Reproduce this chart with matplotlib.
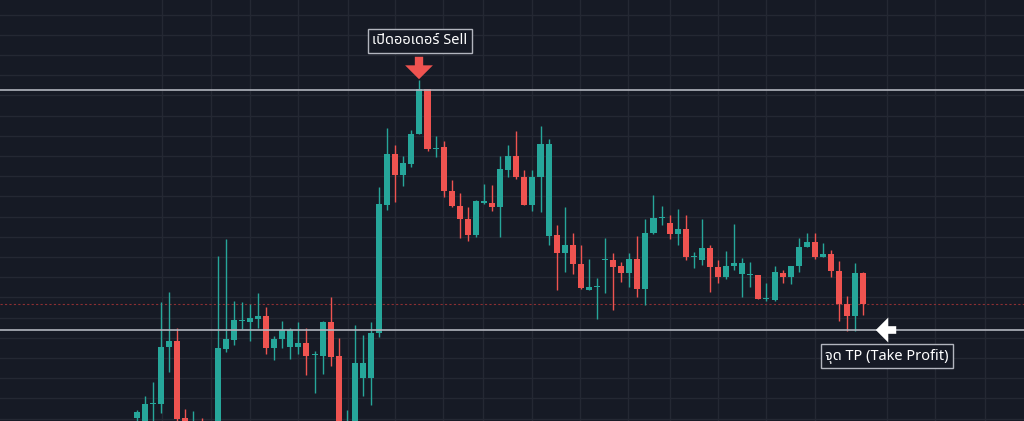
import matplotlib
matplotlib.use("Agg")
import matplotlib.pyplot as plt
from matplotlib import font_manager

opens_y = [418,430,404,404,347,341,418,445,425,430,440,349,340,321,322,319,316,348,339,347,347,343,355,356,322,356,440,435,378,378,333,205,154,175,164,134,89,149,147,191,206,219,235,203,203,207,170,156,177,205,177,236,235,253,245,264,290,287,260,260,266,273,259,289,233,218,223,234,229,257,260,248,267,277,266,274,275,275,299,300,273,277,266,247,242,257,254,271,304,316,273]
closes_y = [412,404,404,347,341,419,440,430,440,440,348,339,320,320,318,316,348,339,330,330,343,356,355,322,357,440,425,363,363,333,204,154,175,163,134,89,149,148,191,206,219,235,201,201,207,169,156,177,205,177,144,144,253,245,264,288,287,287,260,267,273,259,289,233,218,218,234,229,257,257,248,267,277,266,263,263,274,299,299,272,277,266,247,242,257,254,271,304,316,273,304]
highs_y = [410,396,382,302,292,328,409,411,418,425,256,239,301,302,304,293,307,336,321,328,322,328,351,321,297,338,410,325,335,322,187,128,145,156,130,80,89,136,141,180,193,207,200,184,185,156,145,131,170,170,126,139,225,207,233,245,259,278,238,253,262,253,236,219,195,206,215,209,215,252,219,245,260,251,224,258,262,275,283,266,270,266,238,233,233,243,250,261,296,263,272]
lows_y = [421,421,421,413,372,421,450,455,445,448,449,352,345,329,341,328,354,360,348,359,354,375,393,374,366,445,448,440,396,405,337,210,202,186,167,134,151,157,197,207,238,241,237,204,211,237,177,179,205,211,212,245,290,272,274,289,290,319,293,310,282,287,297,305,234,225,239,245,260,268,265,292,283,279,270,297,287,299,301,301,283,284,272,247,259,257,277,321,331,331,315]

opens = [421 - v for v in opens_y]
closes = [421 - v for v in closes_y]
highs = [421 - v for v in highs_y]
lows = [421 - v for v in lows_y]

sell_level = 421 - 90
tp_level = 421 - 330
red_level = 421 - 304
sell_label = "เปิดออเดอร์ Sell"
tp_label = "จุด TP (Take Profit)"

names = {f.name for f in font_manager.fontManager.ttflist}
fam = [n for n in ["Noto Sans Thai", "Noto Sans Thai UI", "Loma", "Garuda", "Tlwg Typo", "Noto Sans", "DejaVu Sans"] if n in names]
plt.rcParams['font.family'] = fam

BG = "#161a25"; GRID = "#242833"; UP = "#26a69a"; DN = "#ef5350"
W, H = 1024, 421
fig = plt.figure(figsize=(W/100, H/100), dpi=100, facecolor=BG)
ax = fig.add_axes([0, 0, 1, 1], facecolor=BG)
step = 8.07; x0 = 137
ax.set_xlim(-x0/step, (W - x0)/step)
ax.set_ylim(0, H)
ax.axis('off')

# grid
for gx in [162, 211, 250, 298, 348, 395, 443, 483, 532, 580, 628, 670, 718, 766, 815, 887, 935, 985]:
    ax.axvline((gx - x0)/step, color=GRID, lw=1, zorder=0)
for gy in range(15, 421, 20):
    ax.axhline(421 - gy - (gy//100)*1, color=GRID, lw=1, zorder=0)

for i, (o, c, h, l) in enumerate(zip(opens, closes, highs, lows)):
    col = UP if c >= o else DN
    ax.vlines(i, l, h, color=col, lw=1, zorder=2)
    bot = min(o, c); ht = max(abs(c - o), 1.2)
    ax.bar(i, ht, bottom=bot, width=0.75, color=col, zorder=3, linewidth=0)

ax.axhline(sell_level, color="#b2b5be", lw=1.2, zorder=4)
ax.axhline(tp_level, color="#b2b5be", lw=1.2, zorder=4)
ax.axhline(red_level, color="#8c2f33", lw=0.8, ls=(0, (2, 2)), zorder=1)

# overlay for annotations in pixel coords
ov = fig.add_axes([0, 0, 1, 1], facecolor='none')
ov.set_xlim(0, W); ov.set_ylim(H, 0); ov.axis('off')
box = dict(boxstyle="square,pad=0.3", fc=BG, ec="#b2b5be", lw=1)
ov.text(420, 41, sell_label, color="white", fontsize=10.5, ha="center", va="center", bbox=box)
ov.text(887, 356, tp_label, color="white", fontsize=10.5, ha="center", va="center", bbox=box)
ov.annotate("", xy=(419, 82), xytext=(419, 54),
            arrowprops=dict(arrowstyle="simple,head_width=2.0,head_length=1.0,tail_width=0.6", color=DN, lw=0))
ov.annotate("", xy=(873, 330), xytext=(899, 330),
            arrowprops=dict(arrowstyle="simple,head_width=1.8,head_length=0.9,tail_width=0.55", color="white", lw=0))

fig.savefig("out.png", dpi=100, facecolor=BG)
